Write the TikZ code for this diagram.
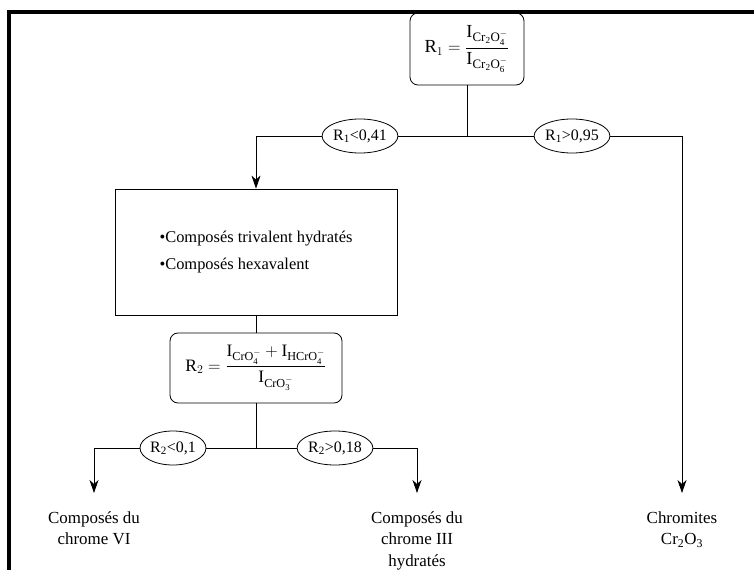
\documentclass[tikz,border=0pt]{standalone}
\usepackage{amsmath}
\usepackage{fontspec}
\setmainfont{Liberation Serif}
\usetikzlibrary{arrows.meta,shapes.geometric}
\begin{document}
\begin{tikzpicture}[x=1bp,y=-1bp,
  line width=0.8bp,
  frm/.style={line width=4bp},
  rbox/.style={draw, rounded corners=8bp, inner sep=0pt, font=\fontsize{18.5}{22}\selectfont},
  bigbox/.style={draw, inner sep=0pt, align=left, font=\fontsize{16.5}{27}\selectfont},
  cond/.style={draw, ellipse, inner sep=0pt, minimum width=68bp, minimum height=34bp, fill=white, font=\fontsize{16}{18}\selectfont},
  res/.style={align=center, anchor=north, inner sep=0pt, font=\fontsize{17}{21.5}\selectfont},
  arr/.style={-{Stealth[length=13bp,width=9bp,inset=4bp]}}]
\useasboundingbox (0,0) rectangle (754,570);
\draw[frm] (7,12) -- (754,12);
\draw[frm] (9,10) -- (9,570);

\node[rbox, minimum width=114bp, minimum height=72bp] (r1) at (467,49)
  {$\mathrm{R}_1=\dfrac{\mathrm{I}_{\mathrm{Cr_2O_4^-}}}{\mathrm{I}_{\mathrm{Cr_2O_6^-}}}$};
\coordinate (j1) at (467,136);
\node[cond] (e1) at (360,136) {R\textsubscript{1}<0,41};
\node[cond] (e2) at (572,136) {R\textsubscript{1}>0,95};
\coordinate (k1) at (256,136);
\coordinate (k2) at (682,136);
\node[bigbox, minimum width=282bp, minimum height=126bp] (bx) at (256,252)
  {\textbullet Composés trivalent hydratés\\\textbullet Composés hexavalent};
\node[rbox, minimum width=172bp, minimum height=70bp, font=\fontsize{17.5}{21}\selectfont] (r2) at (256,368)
  {$\mathrm{R}_2=\dfrac{\mathrm{I}_{\mathrm{CrO_4^-}}+\mathrm{I}_{\mathrm{HCrO_4^-}}}{\mathrm{I}_{\mathrm{CrO_3^-}}}$};
\coordinate (j2) at (256,448);
\node[cond, minimum width=66bp] (e3) at (173,448) {R\textsubscript{2}<0,1};
\node[cond] (e4) at (335,448) {R\textsubscript{2}>0,18};
\coordinate (k3) at (94,448);
\coordinate (k4) at (417,448);
\node[res] (t1) at (94,511) {Composés du\\chrome VI};
\node[res] (t2) at (417,511) {Composés du\\chrome III\\hydratés};
\node[res] (t3) at (682,511) {Chromites\\Cr\textsubscript{2}O\textsubscript{3}};

\draw (r1) -- (j1);
\draw (j1) -- (e1);
\draw (j1) -- (e2);
\draw[arr] (e1) -- (k1) -- (bx);
\draw[arr] (e2) -- (k2) -- ([yshift=18bp]t3.north);
\draw (bx) -- (r2);
\draw (r2) -- (j2);
\draw (j2) -- (e3);
\draw (j2) -- (e4);
\draw[arr] (e3) -- (k3) -- ([yshift=18bp]t1.north);
\draw[arr] (e4) -- (k4) -- ([yshift=18bp]t2.north);
\end{tikzpicture}
\end{document}
